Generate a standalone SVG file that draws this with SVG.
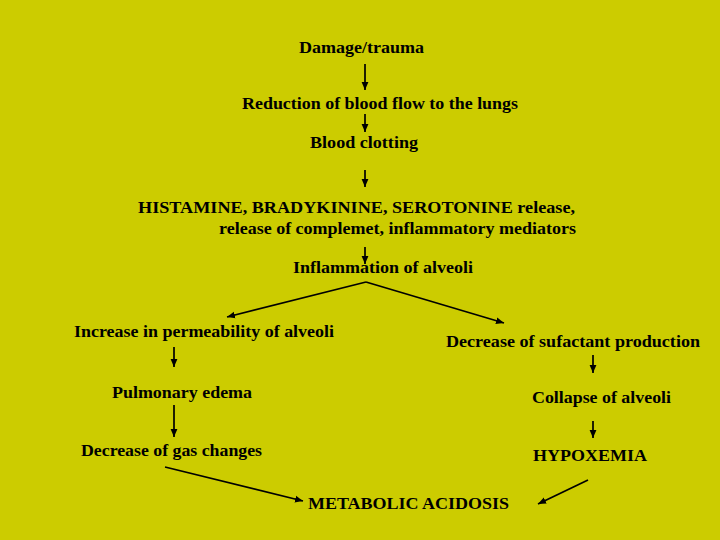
<svg xmlns="http://www.w3.org/2000/svg" width="720" height="540" viewBox="0 0 720 540">
<style>
text{font-family:"Liberation Serif","Times New Roman",serif;font-weight:bold;font-size:16px;fill:#000}
.c line{stroke:#000;stroke-width:1.7;marker-end:url(#ah)}
</style>
<defs>
<marker id="ah" markerUnits="userSpaceOnUse" markerWidth="9" markerHeight="8" refX="8" refY="4" orient="auto">
<path d="M0,0.6 L8,4 L0,7.4 z" fill="#000"/>
</marker>
</defs>
<rect width="720" height="540" fill="#CCCC00"/>
<g class="c" id="connectors">
<line x1="365" y1="64" x2="365" y2="90"/>
<line x1="365" y1="114" x2="365" y2="132"/>
<line x1="365" y1="170" x2="365" y2="187"/>
<line x1="365" y1="247" x2="365" y2="264"/>
<line x1="366" y1="282" x2="227" y2="317"/>
<line x1="366" y1="282" x2="504" y2="323"/>
<line x1="174" y1="347" x2="174" y2="367"/>
<line x1="593" y1="355" x2="593" y2="373"/>
<line x1="174" y1="405" x2="174" y2="437"/>
<line x1="593" y1="421" x2="593" y2="438"/>
<line x1="165" y1="467" x2="303" y2="501"/>
<line x1="588" y1="480" x2="538" y2="504"/>
</g>
<g id="n1"><text x="299" y="53" textLength="125" lengthAdjust="spacingAndGlyphs">Damage/trauma</text></g>
<g id="n2"><text x="242" y="109" textLength="276" lengthAdjust="spacingAndGlyphs">Reduction of blood flow to the lungs</text></g>
<g id="n3"><text x="310" y="148" textLength="108" lengthAdjust="spacingAndGlyphs">Blood clotting</text></g>
<g id="n4"><text x="138" y="213" textLength="437" lengthAdjust="spacingAndGlyphs">HISTAMINE, BRADYKININE, SEROTONINE release,</text>
<text x="219" y="234" textLength="357" lengthAdjust="spacingAndGlyphs">release of complemet, inflammatory mediators</text></g>
<g id="n5"><text x="293" y="273" textLength="180" lengthAdjust="spacingAndGlyphs">Inflammation of alveoli</text></g>
<g id="n6"><text x="74" y="337" textLength="260" lengthAdjust="spacingAndGlyphs">Increase in permeability of alveoli</text></g>
<g id="n7"><text x="446" y="347" textLength="254" lengthAdjust="spacingAndGlyphs">Decrease of sufactant production</text></g>
<g id="n8"><text x="112" y="398" textLength="140" lengthAdjust="spacingAndGlyphs">Pulmonary edema</text></g>
<g id="n9"><text x="532" y="403" textLength="139" lengthAdjust="spacingAndGlyphs">Collapse of alveoli</text></g>
<g id="n10"><text x="81" y="456" textLength="181" lengthAdjust="spacingAndGlyphs">Decrease of gas changes</text></g>
<g id="n11"><text x="533" y="461" textLength="114" lengthAdjust="spacingAndGlyphs">HYPOXEMIA</text></g>
<g id="n12"><text x="308" y="509" textLength="201" lengthAdjust="spacingAndGlyphs">METABOLIC ACIDOSIS</text></g>
</svg>
